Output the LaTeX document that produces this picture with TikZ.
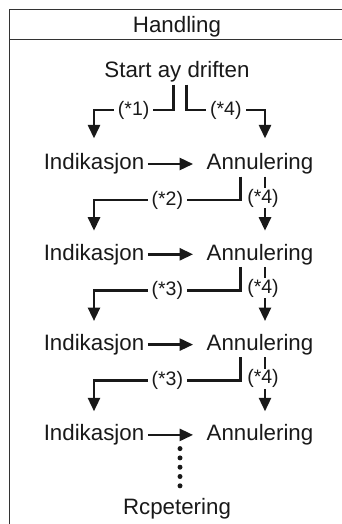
\documentclass[tikz,border=0pt]{standalone}
\usepackage{fontspec}
\setmainfont{Liberation Sans}
\usetikzlibrary{arrows.meta, positioning}

\begin{document}
\begin{tikzpicture}[x=1pt, y=-1pt, node distance=90.3pt, on grid]
    \tikzstyle{txt} = [inner sep=2pt, text=black!90, font=\fontsize{22.3}{26}\selectfont]
    \tikzstyle{lbl} = [fill=white, text=black!90, inner xsep=4pt, inner ysep=1pt, font=\fontsize{19.5}{22}\selectfont]
    \tikzstyle{frame} = [line width=1.2pt, black!80]
    \tikzstyle{arrow} = [line width=2.6pt, black!90, -{Triangle[width=12pt,length=13.5pt]}]
    \tikzstyle{dotline} = [line width=5pt, black!90, line cap=round, dash pattern=on 0pt off 9.3pt]

    \useasboundingbox (0,0) rectangle (341,524);
    \draw[frame] (9.3,530) |- (345,9.3);
    \draw[frame] (9.3,39.3) -- (345,39.3);

    \node (head) [txt] at (177,26.5) {Handling};
    \node (start) [txt, below=45.5pt of head] {Start ay driften};
    \node (ind1) [txt, below left=92pt and 83pt of start] {Indikasjon};
    \node (ann1) [txt, right=166pt of ind1] {Annulering};
    \node (ind2) [txt, below=of ind1] {Indikasjon};
    \node (ann2) [txt, right=166pt of ind2] {Annulering};
    \node (ind3) [txt, below=of ind2] {Indikasjon};
    \node (ann3) [txt, right=166pt of ind3] {Annulering};
    \node (ind4) [txt, below=of ind3] {Indikasjon};
    \node (ann4) [txt, right=166pt of ind4] {Annulering};
    \node (rep) [txt, below right=74pt and 83pt of ind4] {Rcpetering};

    % from the start
    \draw [arrow, shorten >=13pt] ([xshift=-3.7pt]start.south) -- ++(0,25.5) -| node[lbl, pos=.25] {(*1)} (ind1.north);
    \draw [arrow, shorten >=13pt] ([xshift=9.7pt]start.south) -- ++(0,25.5) -| node[lbl, pos=.25] {(*4)} ([xshift=5pt]ann1.north);

    % rows
    \draw [arrow, shorten <=1.5pt, shorten >=11.4pt] (ind1) -- (ann1);
    \draw [arrow, shorten <=1.5pt, shorten >=11.4pt] (ind2) -- (ann2);
    \draw [arrow, shorten <=1.5pt, shorten >=11.4pt] (ind3) -- (ann3);
    \draw [arrow, shorten <=1.5pt, shorten >=11.4pt] (ind4) -- (ann4);

    % next step
    \draw [arrow, shorten >=11pt] ([xshift=-19.3pt]ann1.south) -- ++(0,23.5) -| node[lbl, pos=.25] {(*2)} (ind2.north);
    \draw [arrow, shorten >=11pt] ([xshift=5pt]ann1.south) -- node[lbl, pos=.33, xshift=-2pt] {(*4)} ([xshift=5pt]ann2.north);
    \draw [arrow, shorten >=11pt] ([xshift=-19.3pt]ann2.south) -- ++(0,23.5) -| node[lbl, pos=.25] {(*3)} (ind3.north);
    \draw [arrow, shorten >=11pt] ([xshift=5pt]ann2.south) -- node[lbl, pos=.33, xshift=-2pt] {(*4)} ([xshift=5pt]ann3.north);
    \draw [arrow, shorten >=11pt] ([xshift=-19.3pt]ann3.south) -- ++(0,23.5) -| node[lbl, pos=.25] {(*3)} (ind4.north);
    \draw [arrow, shorten >=11pt] ([xshift=5pt]ann3.south) -- node[lbl, pos=.33, xshift=-2pt] {(*4)} ([xshift=5pt]ann4.north);

    \draw [dotline] ([xshift=3pt, yshift=10.5pt]rep.north) -- ++(0,-37.3);
\end{tikzpicture}
\end{document}
